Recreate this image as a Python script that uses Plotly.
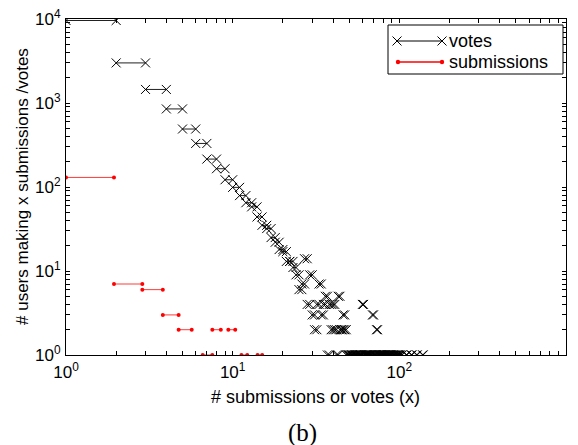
import plotly.graph_objects as go

# ---- data ----
votes_x = [1, 2, 3, 4, 5, 6, 7, 8, 9, 10, 11, 12, 13, 14, 15, 16, 17, 18, 19, 20,
           21, 22, 23, 24, 25, 26, 27, 28, 29, 30, 31, 32, 33, 34, 35, 36, 37, 38, 39, 40,
           41, 42, 43, 44, 45, 46, 47, 48, 49, 50, 51, 52, 53, 54, 55, 56, 57, 58, 59, 60,
           61, 62, 63, 64, 65, 66, 67, 68, 69, 70, 71, 72, 73, 74, 75, 76, 77, 78, 79, 80,
           81, 82, 84, 85, 86, 87, 88, 90, 92, 94, 96, 98, 100, 103, 110, 118, 127, 138]
votes_count = [9600, 3000, 1450, 850, 490, 330, 215, 165, 122, 99, 79, 65, 58, 44, 35, 32, 25, 22, 18, 17,
               13, 13, 11, 9, 6, 7, 14, 4, 9, 3, 2, 4, 7, 3, 4, 5, 1, 4, 2, 4,
               2, 1, 5, 2, 2, 3, 2, 1, 1, 1, 1, 1, 1, 1, 1, 1, 1, 1, 1, 4,
               1, 1, 1, 1, 1, 1, 1, 1, 3, 1, 1, 1, 2, 1, 1, 1, 1, 1, 1, 1,
               1, 1, 1, 1, 1, 1, 1, 1, 1, 1, 1, 1, 1, 1, 1, 1, 1, 1]
votes_bin_width = 1

subm_left = [1, 1.94, 2.87, 3.81, 4.74, 6.61, 7.55, 9.42, 11.29, 14.1]
subm_right = [1.94, 2.87, 3.81, 4.74, 5.68, 7.55, 8.49, 10.36, 12.23, 15.04]
subm_count = [130, 7, 6, 3, 2, 1, 2, 2, 1, 1]

decades = [1, 10, 100, 1000, 10000]
decade_labels = ["10<sup>0</sup>", "10<sup>1</sup>", "10<sup>2</sup>", "10<sup>3</sup>", "10<sup>4</sup>"]

x_title = "# submissions or votes (x)"
y_title = "# users making x submissions /votes"
legend_names = ["votes", "submissions"]
caption = "(b)"

# ---- build segment traces ----
vx, vy = [], []
for x, c in zip(votes_x, votes_count):
    vx += [x, x + votes_bin_width, None]
    vy += [c, c, None]
sx, sy = [], []
for a, b, c in zip(subm_left, subm_right, subm_count):
    sx += [a, b, None]
    sy += [c, c, None]

fig = go.Figure()
fig.add_trace(go.Scatter(x=sx, y=sy, mode="lines+markers", name=legend_names[1],
                         line=dict(color="#ff3a3a", width=1),
                         marker=dict(symbol="circle", size=4, color="#ff0000"),
                         connectgaps=False))
fig.add_trace(go.Scatter(x=vx, y=vy, mode="lines+markers", name=legend_names[0],
                         line=dict(color="#202020", width=1),
                         marker=dict(symbol="x-thin", size=9, line=dict(color="black", width=1)),
                         connectgaps=False))


def log_ticks(n_dec):
    vals, texts = [], []
    for i in range(n_dec + 1):
        d = decades[i]
        vals.append(d)
        texts.append(decade_labels[i])
        if i < n_dec:
            for m in range(2, 10):
                vals.append(m * d)
                texts.append("")
    return vals, texts


xv, xt = log_ticks(3)
yv, yt = log_ticks(4)

axis_common = dict(type="log", tickmode="array",
                   ticks="inside", ticklen=4, tickwidth=1, tickcolor="black",
                   showline=True, linecolor="black", linewidth=1, mirror="ticks",
                   showgrid=False, zeroline=False, automargin=False,
                   tickfont=dict(size=17))

fig.update_layout(
    width=578, height=445,
    margin=dict(l=66, r=12, t=19, b=90),
    paper_bgcolor="white", plot_bgcolor="white",
    font=dict(family="Liberation Sans, Arial, sans-serif", size=17, color="black"),
    showlegend=False,
    xaxis=dict(range=[0, 3], tickvals=xv, ticktext=xt, ticklabelstandoff=2, **axis_common),
    yaxis=dict(range=[0, 4], tickvals=yv, ticktext=yt, ticklabelstandoff=1, **axis_common),
)


def px2paper(px, py):
    return (px - 66) / 500.0, (355 - py) / 336.0


# axis titles
tx_, ty_ = px2paper(315, 397)
fig.add_annotation(xref="paper", yref="paper", x=tx_, y=ty_, text=x_title, showarrow=False,
                   xanchor="center", yanchor="middle", font=dict(size=18))
yx_, yy_ = px2paper(22, 187)
fig.add_annotation(xref="paper", yref="paper", x=yx_, y=yy_, text=y_title, showarrow=False,
                   xanchor="center", yanchor="middle", textangle=-90, font=dict(size=17))

# ---- MATLAB-style legend drawn as decoration ----
shapes = []
x0, y0 = px2paper(388, 25)
x1, y1 = px2paper(563, 74)
shapes.append(dict(type="rect", xref="paper", yref="paper", x0=x0, y0=y1, x1=x1, y1=y0,
                   line=dict(color="black", width=1), fillcolor="white", layer="above"))
la, ly = px2paper(397, 41)
lb, _ = px2paper(442, 41)
shapes.append(dict(type="line", xref="paper", yref="paper", x0=la, y0=ly, x1=lb, y1=ly,
                   line=dict(color="black", width=1), layer="above"))
hx, hy = 4.5 / 500.0, 4.5 / 336.0
for cx in (la, lb):
    shapes.append(dict(type="line", xref="paper", yref="paper", x0=cx - hx, y0=ly - hy,
                       x1=cx + hx, y1=ly + hy, line=dict(color="black", width=1), layer="above"))
    shapes.append(dict(type="line", xref="paper", yref="paper", x0=cx - hx, y0=ly + hy,
                       x1=cx + hx, y1=ly - hy, line=dict(color="black", width=1), layer="above"))
sa, sy2 = px2paper(398, 62)
sb, _ = px2paper(442, 62)
shapes.append(dict(type="line", xref="paper", yref="paper", x0=sa, y0=sy2, x1=sb, y1=sy2,
                   line=dict(color="#ff0000", width=1.5), layer="above"))
rx, ry = 2.2 / 500.0, 2.2 / 336.0
for cx in (sa, sb):
    shapes.append(dict(type="circle", xref="paper", yref="paper", x0=cx - rx, y0=sy2 - ry,
                       x1=cx + rx, y1=sy2 + ry, fillcolor="#ff0000",
                       line=dict(color="#ff0000", width=0), layer="above"))
fig.update_layout(shapes=shapes)

lx, _ = px2paper(447, 0)
fig.add_annotation(xref="paper", yref="paper", x=lx, y=ly, text=legend_names[0],
                   showarrow=False, xanchor="left", yanchor="middle", font=dict(size=18))
fig.add_annotation(xref="paper", yref="paper", x=lx, y=sy2, text=legend_names[1],
                   showarrow=False, xanchor="left", yanchor="middle", font=dict(size=18))

cx_, cy_ = px2paper(302, 433)
fig.add_annotation(xref="paper", yref="paper", x=cx_, y=cy_, text=caption, showarrow=False,
                   xanchor="center", yanchor="middle",
                   font=dict(family="Liberation Serif, DejaVu Serif, serif", size=25))

fig.write_html("out.html", post_script="document.body.style.margin='0';",
               config={"displayModeBar": False})
